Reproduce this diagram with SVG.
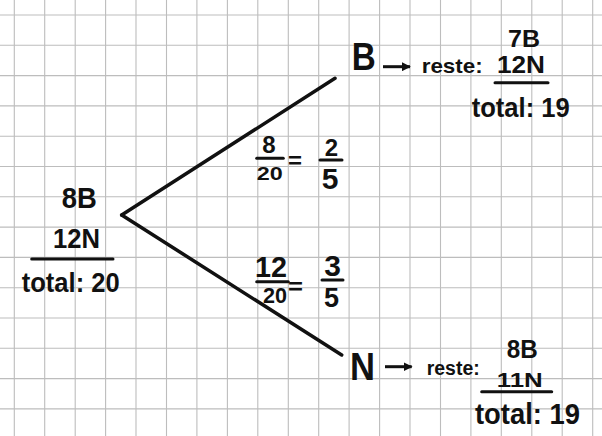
<svg xmlns="http://www.w3.org/2000/svg" width="602" height="436" viewBox="0 0 602 436">
<defs>
<style>
.g{stroke:#bdbdbd;stroke-width:1.1;fill:none}
.t{font-family:"Liberation Sans",Arial,sans-serif;font-weight:bold;fill:#111}
.big{font-family:"Liberation Sans",Arial,sans-serif;font-weight:bold;fill:#111}
.br{stroke:#111;stroke-width:3.5;stroke-linecap:round;fill:none}
.bar{stroke:#111;stroke-width:3;stroke-linecap:round}
.ar{stroke:#111;stroke-width:3;fill:none}
</style>
<marker id="ah" viewBox="0 0 10 10" refX="9" refY="5" markerWidth="3" markerHeight="3" orient="auto" markerUnits="strokeWidth">
<path d="M0,0 L10,5 L0,10 z" fill="#111"/>
</marker>
</defs>
<rect width="602" height="436" fill="#fff"/>
<g id="grid" class="g">
<path d="M14.3,0V436M44.7,0V436M75.2,0V436M105.6,0V436M136,0V436M166.5,0V436M196.9,0V436M227.4,0V436M257.8,0V436M288.3,0V436M318.7,0V436M349.1,0V436M379.6,0V436M410,0V436M440.5,0V436M470.9,0V436M501.3,0V436M531.8,0V436M562.2,0V436M592.7,0V436"/>
<path d="M0,15H602M0,45.3H602M0,75.6H602M0,105.9H602M0,136.2H602M0,166.5H602M0,196.8H602M0,227.1H602M0,257.4H602M0,287.7H602M0,318H602M0,348.3H602M0,378.6H602M0,408.9H602"/>
</g>
<g id="connectors">
<path class="br" d="M121.7,215 L335,78.3"/>
<path class="br" d="M121.7,215 L341.7,355"/>
<path class="ar" d="M383,66.7 L410,66.7" marker-end="url(#ah)"/>
<path class="ar" d="M385,366.7 L411.7,366.7" marker-end="url(#ah)"/>
</g>
<g id="root">
<text class="t" x="61.7" y="208" font-size="29" textLength="35" lengthAdjust="spacingAndGlyphs">8B</text>
<text class="t" x="53" y="248" font-size="28" textLength="47" lengthAdjust="spacingAndGlyphs">12N</text>
<line class="bar" x1="31.7" y1="259" x2="113" y2="259"/>
<text class="t" x="21.7" y="291.7" font-size="27" textLength="98" lengthAdjust="spacingAndGlyphs">total: 20</text>
</g>
<g id="nodeB">
<text class="big" x="351.7" y="70" font-size="39" textLength="24" lengthAdjust="spacingAndGlyphs">B</text>
<text class="t" x="421.7" y="73" font-size="21" textLength="61" lengthAdjust="spacingAndGlyphs">reste:</text>
<text class="t" x="508" y="46.7" font-size="23" textLength="32" lengthAdjust="spacingAndGlyphs">7B</text>
<text class="t" x="497" y="73.3" font-size="23" textLength="48" lengthAdjust="spacingAndGlyphs">12N</text>
<line class="bar" x1="495" y1="82.7" x2="548" y2="82.7"/>
<text class="t" x="471.7" y="117" font-size="28" textLength="98" lengthAdjust="spacingAndGlyphs">total: 19</text>
</g>
<g id="nodeN">
<text class="big" x="350" y="380" font-size="39" textLength="25" lengthAdjust="spacingAndGlyphs">N</text>
<text class="t" x="426.7" y="375" font-size="20" textLength="53" lengthAdjust="spacingAndGlyphs">reste:</text>
<text class="t" x="506.7" y="358" font-size="26" textLength="31" lengthAdjust="spacingAndGlyphs">8B</text>
<text class="t" x="496.7" y="387" font-size="20" textLength="46" lengthAdjust="spacingAndGlyphs">11N</text>
<line class="bar" x1="481.7" y1="391.7" x2="551.7" y2="391.7"/>
<text class="t" x="475" y="424" font-size="30" textLength="105" lengthAdjust="spacingAndGlyphs">total: 19</text>
</g>
<g id="probB">
<text class="t" x="269" y="153" font-size="24" text-anchor="middle">8</text>
<line class="bar" x1="256.7" y1="158.3" x2="283.3" y2="158.3"/>
<text class="t" x="256.7" y="180" font-size="18" textLength="26" lengthAdjust="spacingAndGlyphs">20</text>
<text class="t" x="288" y="168" font-size="22" textLength="14" lengthAdjust="spacingAndGlyphs">=</text>
<text class="t" x="331.5" y="155.5" font-size="24" text-anchor="middle">2</text>
<line class="bar" x1="320" y1="160" x2="342" y2="160"/>
<text class="t" x="330" y="189" font-size="30" text-anchor="middle">5</text>
</g>
<g id="probN">
<text class="t" x="255" y="277" font-size="30" textLength="32" lengthAdjust="spacingAndGlyphs">12</text>
<line class="bar" x1="256.7" y1="281.7" x2="288.3" y2="281.7"/>
<text class="t" x="263" y="303" font-size="22" textLength="24" lengthAdjust="spacingAndGlyphs">20</text>
<text class="t" x="288" y="294" font-size="22" textLength="15" lengthAdjust="spacingAndGlyphs">=</text>
<text class="t" x="332.5" y="275.5" font-size="30" text-anchor="middle">3</text>
<line class="bar" x1="322" y1="280" x2="343" y2="280"/>
<text class="t" x="331.5" y="307" font-size="27" text-anchor="middle">5</text>
</g>
</svg>
